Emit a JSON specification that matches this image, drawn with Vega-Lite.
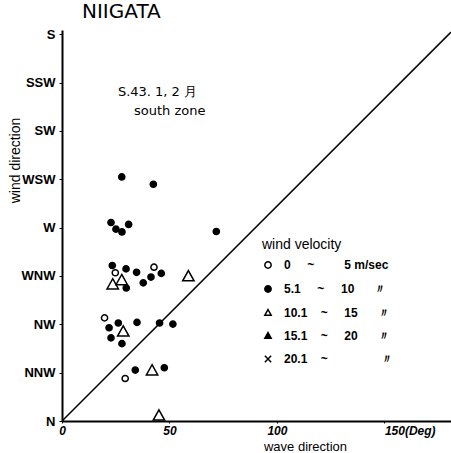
{
  "$schema": "https://vega.github.io/schema/vega-lite/v6.json",
  "width": 389,
  "height": 391,
  "autosize": {"type": "none"},
  "padding": {"left": 62, "top": 30, "right": 0, "bottom": 32},
  "background": "white",
  "config": {
    "view": {"stroke": null},
    "font": "Liberation Sans",
    "axis": {"grid": false, "domainColor": "black", "domainWidth": 2, "tickColor": "black", "labelColor": "black", "titleColor": "black"}
  },
  "title": {"text": "NIIGATA", "anchor": "start", "frame": "group", "dx": 20, "offset": 6, "fontSize": 20, "fontWeight": "normal", "font": "DejaVu Sans", "color": "black"},
  "layer": [
    {
      "data": {"values": [{"x": 0, "y": 0}, {"x": 181, "y": 181}]},
      "mark": {"type": "line", "color": "black", "strokeWidth": 1.5, "clip": true},
      "encoding": {
        "x": {"field": "x", "type": "quantitative", "scale": {"domain": [0, 181], "nice": false},
          "axis": {"values": [0, 50, 100, 150], "labelExpr": "datum.value == 150 ? '150(Deg)' : datum.label",
            "labelAlign": {"condition": {"test": "datum.value == 150", "value": "left"}, "value": "center"},
            "labelFontSize": 12, "labelFontStyle": "italic", "labelFontWeight": "bold", "labelPadding": 2, "tickSize": 2, "labelFlush": false,
            "title": "wave direction", "titleFontSize": 13, "titleFontWeight": "normal", "titleX": 243, "titleY": 25, "titleBaseline": "middle"}},
        "y": {"field": "y", "type": "quantitative", "scale": {"domain": [0, 182], "nice": false},
          "axis": {"values": [0, 22.5, 45, 67.5, 90, 112.5, 135, 157.5, 180], "labelExpr": "['N','NNW','NW','WNW','W','WSW','SW','SSW','S'][round(datum.value/22.5)]", "labelFontSize": 13, "labelFontWeight": "bold", "labelPadding": 4, "tickSize": 3,
            "title": "wind direction", "titleFontSize": 14, "titleFontWeight": "normal", "titleX": -47, "titleY": 130, "titleBaseline": "middle"}}
      }
    },
    {
      "data": {"values": [
        {"x": 27.8, "y": 113.6, "v": "5.1"},
        {"x": 42.5, "y": 110.2, "v": "5.1"},
        {"x": 22.8, "y": 92.4, "v": "5.1"},
        {"x": 25.1, "y": 89.3, "v": "5.1"},
        {"x": 27.9, "y": 88.0, "v": "5.1"},
        {"x": 31.0, "y": 91.5, "v": "5.1"},
        {"x": 71.8, "y": 88.2, "v": "5.1"},
        {"x": 23.4, "y": 72.4, "v": "5.1"},
        {"x": 24.8, "y": 69.0, "v": "0"},
        {"x": 29.8, "y": 70.8, "v": "5.1"},
        {"x": 34.7, "y": 69.2, "v": "5.1"},
        {"x": 42.8, "y": 71.6, "v": "0"},
        {"x": 41.4, "y": 67.0, "v": "5.1"},
        {"x": 46.2, "y": 68.7, "v": "5.1"},
        {"x": 37.8, "y": 64.3, "v": "5.1"},
        {"x": 29.9, "y": 61.9, "v": "5.1"},
        {"x": 23.6, "y": 63.3, "v": "10.1"},
        {"x": 27.8, "y": 65.3, "v": "10.1"},
        {"x": 58.8, "y": 67.1, "v": "10.1"},
        {"x": 19.8, "y": 48.0, "v": "0"},
        {"x": 21.9, "y": 43.4, "v": "5.1"},
        {"x": 26.2, "y": 45.6, "v": "5.1"},
        {"x": 34.9, "y": 45.9, "v": "5.1"},
        {"x": 45.4, "y": 45.6, "v": "5.1"},
        {"x": 51.6, "y": 45.1, "v": "5.1"},
        {"x": 22.8, "y": 38.7, "v": "5.1"},
        {"x": 28.5, "y": 41.4, "v": "10.1"},
        {"x": 27.9, "y": 36.0, "v": "5.1"},
        {"x": 34.1, "y": 23.7, "v": "5.1"},
        {"x": 29.4, "y": 19.8, "v": "0"},
        {"x": 41.9, "y": 23.3, "v": "10.1"},
        {"x": 47.6, "y": 24.8, "v": "5.1"},
        {"x": 45.1, "y": 2.3, "v": "10.1"}
      ]},
      "mark": {"type": "point", "stroke": "black", "strokeWidth": 1.5, "opacity": 1, "fillOpacity": 1},
      "encoding": {
        "x": {"field": "x", "type": "quantitative"},
        "y": {"field": "y", "type": "quantitative"},
        "shape": {"field": "v", "type": "nominal",
          "scale": {"domain": ["0", "5.1", "10.1", "15.1", "20.1"], "range": ["circle", "circle", "M0,-1.1L1,0.7L-1,0.7Z", "M0,-1.1L1,0.7L-1,0.7Z", "M-1,-1L1,1M-1,1L1,-1"]},
          "legend": {"orient": "none", "legendX": 200, "legendY": 208, "title": "wind velocity", "titleFontSize": 14, "titleFontWeight": "normal", "titleColor": "black", "titlePadding": 7,
            "labelExpr": "datum.value == '0' ? '\u00a0\u00a00\u00a0\u00a0\u00a0\u00a0\u00a0~\u00a0\u00a0\u00a0\u00a0\u00a0\u00a0\u00a0\u00a0\u00a05 m/sec' : datum.value == '5.1' ? '5.1\u00a0\u00a0\u00a0\u00a0\u00a0~\u00a0\u00a0\u00a0\u00a0\u00a010\u00a0\u00a0\u00a0\u00a0\u00a0\u00a0\u3003' : datum.value == '10.1' ? '10.1\u00a0\u00a0\u00a0\u00a0~\u00a0\u00a0\u00a0\u00a0\u00a015\u00a0\u00a0\u00a0\u00a0\u00a0\u00a0\u3003' : datum.value == '15.1' ? '15.1\u00a0\u00a0\u00a0\u00a0~\u00a0\u00a0\u00a0\u00a0\u00a020\u00a0\u00a0\u00a0\u00a0\u00a0\u00a0\u3003' : '20.1\u00a0\u00a0\u00a0\u00a0~\u00a0\u00a0\u00a0\u00a0\u00a0\u00a0\u00a0\u00a0\u00a0\u00a0\u00a0\u00a0\u00a0\u00a0\u00a0\u00a0\u3003'",
            "labelFontSize": 12, "labelFontWeight": "bold", "labelColor": "black", "rowPadding": 10, "symbolSize": 40, "labelOffset": 10,
            "encode": {"symbols": {"update": {"stroke": {"value": "black"}, "strokeWidth": {"value": 1.5}}}}}},
        "fill": {"field": "v", "type": "nominal",
          "scale": {"domain": ["0", "5.1", "10.1", "15.1", "20.1"], "range": ["white", "black", "white", "black", "black"]}},
        "size": {"condition": {"test": "datum.v == '10.1'", "value": 130}, "value": 38}
      }
    },
    {
      "data": {"values": [
        {"x": 26, "y": 153, "t": "S.43.  1, 2 月"},
        {"x": 33.5, "y": 144.5, "t": "south zone"}
      ]},
      "mark": {"type": "text", "align": "left", "baseline": "middle", "fontSize": 13, "color": "black", "font": "DejaVu Sans"},
      "encoding": {
        "x": {"field": "x", "type": "quantitative"},
        "y": {"field": "y", "type": "quantitative"},
        "text": {"field": "t"}
      }
    }
  ]
}
